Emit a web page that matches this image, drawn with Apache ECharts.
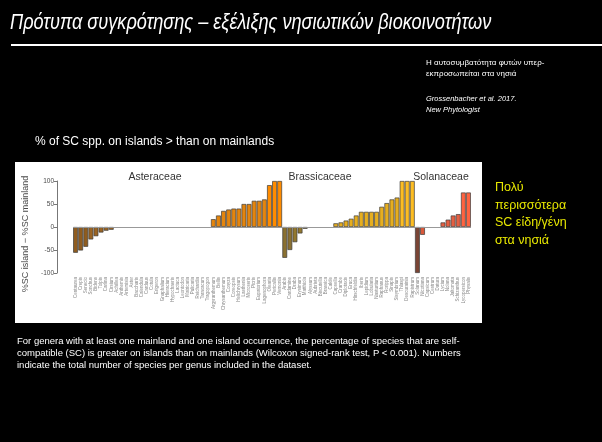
<!DOCTYPE html>
<html>
<head>
<meta charset="utf-8">
<script src="https://cdn.jsdelivr.net/npm/echarts@6/dist/echarts.min.js"></script>
<style>
  html, body { margin: 0; padding: 0; background: #000; }
  #main { width: 602px; height: 442px; }
</style>
</head>
<body>
<div id="main"></div>
<script>
// genus labels (blurred in the source, approximate) and island - mainland %SC values
var asterNames = ['Centaurea', 'Crepis', 'Senecio', 'Sonchus', 'Bidens', 'Tolpis', 'Carlina', 'Cirsium',
  'Achillea', 'Anthemis', 'Artemisia', 'Aster', 'Baccharis', 'Calendula', 'Carduus', 'Cotula', 'Erigeron',
  'Gnaphalium', 'Hieracium', 'Hypochaeris', 'Lactuca', 'Leontodon', 'Matricaria', 'Pulicaria', 'Reichardia',
  'Taraxacum', 'Tragopogon',
  'Argyranthemum', 'Bellis', 'Chrysanthemum', 'Conyza', 'Coreopsis', 'Helichrysum', 'Lasthenia',
  'Microseris', 'Picris', 'Eupatorium', 'Lagenophora', 'Olearia', 'Pericallis', 'Vernonia'];
var asterValues = [-56, -51, -43, -27, -20, -12, -8, -6,
  0, 0, 0, 0, 0, 0, 0, 0, 0, 0, 0, 0, 0, 0, 0, 0, 0, 0, 0,
  17, 25, 35, 38, 40, 40, 50, 50, 57, 57, 60, 91, 100, 100];

var brassNames = ['Arabis', 'Cardamine', 'Draba', 'Erysimum', 'Matthiola',
  'Alyssum', 'Aubrieta', 'Biscutella', 'Brassica', 'Cakile',
  'Capsella', 'Crambe', 'Diplotaxis', 'Eruca', 'Hirschfeldia', 'Iberis', 'Lepidium', 'Lobularia',
  'Nasturtium', 'Raphanus', 'Rorippa', 'Sinapis', 'Sisymbrium', 'Thlaspi', 'Descurainia', 'Rapistrum'];
var brassValues = [-67, -50, -33, -14, -4,
  0, 0, 0, 0, 0,
  8, 10, 14, 18, 25, 33, 33, 33, 33, 44, 52, 60, 64, 100, 100, 100];

var solanNames = ['Solanum', 'Nicotiana', 'Capsicum', 'Cestrum', 'Datura', 'Lycium', 'Nolana',
  'Jaltomata', 'Schizanthus', 'Lycopersicon', 'Physalis'];
var solanValues = [-100, -17, 0, 0, 0, 10, 16, 25, 28, 75, 75];

var yTicks = [-100, -50, 0, 50, 100];

// colours per family: strong negative, weak negative, positive, top
var palette = {
  aster: ['#8f5c1f', '#9a6423', '#e4850e', '#ff8c00'],
  brass: ['#8a7030', '#93782f', '#e6ae1f', '#fdbd22'],
  solan: ['#7a4535', '#d9583a', '#e45f42', '#ff6340']
};

function items(values, pal) {
  return values.map(function (v) {
    var c = v < -40 ? pal[0] : v < 0 ? pal[1] : v >= 70 ? pal[3] : pal[2];
    return { value: v, itemStyle: { color: c, borderWidth: v === 0 ? 0 : 0.7 } };
  });
}

var categories = asterNames.concat(brassNames, solanNames);
var seriesData = items(asterValues, palette.aster).concat(
  items(brassValues, palette.brass), items(solanValues, palette.solan));

var chart = echarts.init(document.getElementById('main'));
var sans = "'Liberation Sans', Arial, sans-serif";

var option = {
  backgroundColor: '#000',
  animation: false,
  grid: { left: 73, right: 131, top: 181, bottom: 169 },
  xAxis: {
    type: 'category',
    data: categories,
    axisLine: { show: false },
    axisTick: { show: false },
    axisLabel: {
      interval: 0, rotate: 90, fontSize: 4.5, color: '#8a8a8a', margin: 4,
      fontFamily: 'Liberation Sans'
    }
  },
  yAxis: {
    type: 'value',
    min: yTicks[0],
    max: yTicks[yTicks.length - 1],
    interval: 50,
    offset: 16,
    axisLine: { show: true, lineStyle: { color: '#777', width: 1 } },
    axisTick: { show: true, length: 3, lineStyle: { color: '#777' } },
    axisLabel: { color: '#4a4a4a', fontSize: 6.5, margin: 3, fontFamily: 'Liberation Sans' },
    splitLine: { show: false }
  },
  graphic: [
    { type: 'text', x: 10, y: 12, scaleX: 0.825, style: { text: 'Πρότυπα συγκρότησης – εξέλιξης νησιωτικών βιοκοινοτήτων',
      fill: '#fff', font: 'italic 22px ' + sans } },
    { type: 'rect', shape: { x: 11, y: 44, width: 591, height: 2 }, style: { fill: '#fff' } },
    { type: 'text', left: 426, top: 57, style: { text: 'Η αυτοσυμβατότητα φυτών υπερ-\nεκπροσωπείται στα νησιά',
      fill: '#fff', font: '8px ' + sans, lineHeight: 11 } },
    { type: 'text', left: 426, top: 93, style: { text: 'Grossenbacher et al. 2017.\nNew Phytologist',
      fill: '#fff', font: 'italic 7.5px ' + sans, lineHeight: 11 } },
    { type: 'text', left: 35, top: 136, style: { text: '% of SC spp. on islands > than on mainlands',
      fill: '#fff', font: '12px ' + sans } },
    { type: 'rect', z: -10, shape: { x: 15, y: 162, width: 467, height: 161 }, style: { fill: '#fff' } },
    { type: 'text', x: 26, y: 234, rotation: Math.PI / 2, style: { text: '%SC island \u2212 %SC mainland',
      fill: '#4a4a4a', font: '9px Liberation Sans', align: 'center', verticalAlign: 'middle' } },
    { type: 'text', x: 155, y: 177, style: { text: 'Asteraceae', fill: '#333', font: '10.5px Liberation Sans',
      align: 'center', verticalAlign: 'middle' } },
    { type: 'text', x: 320, y: 177, style: { text: 'Brassicaceae', fill: '#333', font: '10.5px Liberation Sans',
      align: 'center', verticalAlign: 'middle' } },
    { type: 'text', x: 441, y: 177, style: { text: 'Solanaceae', fill: '#333', font: '10.5px Liberation Sans',
      align: 'center', verticalAlign: 'middle' } },
    { type: 'text', left: 495, top: 179, style: { text: 'Πολύ\nπερισσότερα\nSC είδη/γένη\nστα νησιά',
      fill: '#e8e800', font: '12.5px ' + sans, lineHeight: 17.5 } },
    { type: 'text', left: 17, top: 335, style: { text: 'For genera with at least one mainland and one island occurrence, the percentage of species that are self-\ncompatible (SC) is greater on islands than on mainlands (Wilcoxon signed-rank test, P < 0.001). Numbers\nindicate the total number of species per genus included in the dataset.',
      fill: '#fff', font: '9.5px ' + sans, lineHeight: 12 } }
  ],
  series: [{
    type: 'bar',
    data: seriesData,
    barCategoryGap: '6%',
    itemStyle: { borderColor: '#3c3c3c' },
    markLine: {
      silent: true,
      symbol: 'none',
      label: { show: false },
      lineStyle: { color: '#999', width: 1, type: 'solid' },
      data: [{ yAxis: 0 }]
    }
  }]
};
chart.setOption(option);

window.addEventListener('resize', function () {
  if (chart != null) {
    chart.resize();
  }
});
</script>
</body>
</html>
